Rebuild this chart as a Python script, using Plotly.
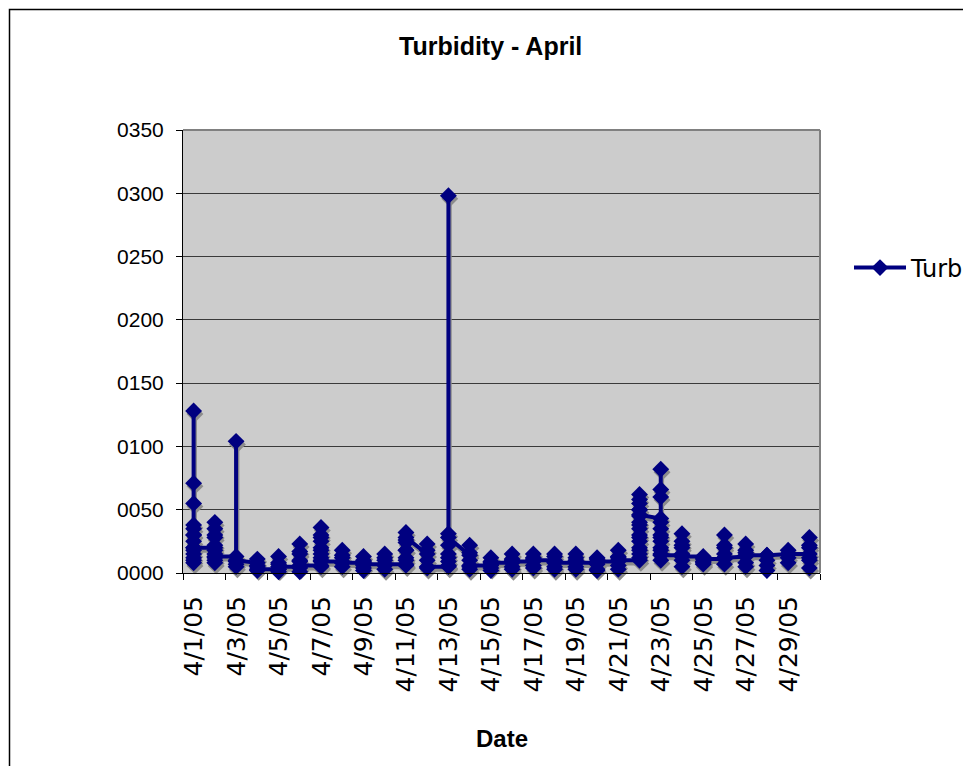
import plotly.graph_objects as go
import pandas as pd

# ---- data: turbidity readings per day (April 2005), in reading order ----
apr01 = [12, 8, 15, 20, 25, 30, 35, 38, 55, 71, 128, 30, 18, 10, 20]
apr02 = [20, 12, 8, 15, 22, 28, 35, 40, 30, 18, 10, 13]
apr03 = [13, 7, 104, 9, 5, 10]
apr04 = [8, 5, 11, 6, 2, 3]
apr05 = [3, 7, 13, 8, 3, 1, 5]
apr06 = [5, 9, 15, 23, 17, 10, 4, 1, 6]
apr07 = [6, 10, 15, 20, 25, 30, 36, 28, 18, 12, 5, 9]
apr08 = [9, 12, 18, 14, 8, 5, 8]
apr09 = [8, 4, 9, 13, 10, 6, 2, 7]
apr10 = [7, 10, 15, 12, 6, 3, 7]
apr11 = [7, 12, 18, 24, 32, 26, 18, 10, 6, 28]
apr12 = [15, 23, 18, 10, 4, 5]
apr13 = [5, 9, 15, 298, 31, 22, 12, 6, 28]
apr14 = [14, 22, 16, 10, 5, 3, 6]
apr15 = [6, 9, 12, 7, 4, 2, 8]
apr16 = [8, 11, 15, 10, 5, 3, 9]
apr17 = [9, 12, 15, 11, 6, 4, 10]
apr18 = [10, 13, 15, 9, 5, 3, 8]
apr19 = [8, 12, 15, 10, 5, 3, 8]
apr20 = [8, 11, 12, 7, 3, 2, 9]
apr21 = [9, 13, 18, 12, 6, 3, 10]
apr22 = [10, 15, 20, 25, 30, 35, 40, 45, 50, 55, 58, 62, 50, 38, 28, 18, 12, 46]
apr23 = [43, 35, 28, 20, 15, 10, 30, 66, 82, 60, 40, 25, 18, 14]
apr24 = [14, 20, 25, 31, 22, 15, 10, 5, 13]
apr25 = [13, 9, 12, 7, 8, 11]
apr26 = [11, 15, 22, 30, 20, 12, 7, 12]
apr27 = [13, 18, 23, 16, 8, 5, 14]
apr28 = [14, 10, 6, 2, 14]
apr29 = [15, 18, 12, 8, 15]
apr30 = [15, 20, 28, 22, 12, 4, 10]

daily_readings = [apr01, apr02, apr03, apr04, apr05, apr06, apr07, apr08, apr09, apr10,
                  apr11, apr12, apr13, apr14, apr15, apr16, apr17, apr18, apr19, apr20,
                  apr21, apr22, apr23, apr24, apr25, apr26, apr27, apr28, apr29, apr30]

y_tickvals = [0, 50, 100, 150, 200, 250, 300, 350]
y_ticktext = ["0000", "0050", "0100", "0150", "0200", "0250", "0300", "0350"]
x_ticktext = ["4/1/05", "4/3/05", "4/5/05", "4/7/05", "4/9/05", "4/11/05", "4/13/05",
              "4/15/05", "4/17/05", "4/19/05", "4/21/05", "4/23/05", "4/25/05",
              "4/27/05", "4/29/05", ""]

series_name = "Turb"
title_text = "Turbidity - April"
x_title = "Date"

# ---- build series ----
start = pd.Timestamp("2005-04-01")
xs, ys = [], []
for i, vals in enumerate(daily_readings):
    d = start + pd.Timedelta(days=i)
    xs += [d] * len(vals)
    ys += vals

# shadow (Excel-style drop shadow)
sx = [v + pd.Timedelta(hours=1.5) for v in xs]
sy = [v - 2.4 for v in ys]

x_tickvals = [start - pd.Timedelta(hours=12) + pd.Timedelta(days=2 * k) for k in range(16)]
x_range = [start - pd.Timedelta(hours=12), start + pd.Timedelta(days=29, hours=12)]

# ---- layout geometry (page pixels; page body has an 8px offset) ----
OFF = 8
W, H = 971 - OFF, 774 - 2 * OFF
L, R, T, B = 183, 820, 130, 573   # plot area in page pixels
pw, ph = R - L, B - T

def px(xp):
    return (xp - L) / pw

def py(yp):
    return (B - yp) / ph

NAVY = "#000080"
FONT = "Liberation Sans"
WIDE = "DejaVu Sans"

fig = go.Figure()
fig.add_trace(go.Scatter(
    x=sx, y=sy, mode="lines+markers", showlegend=False, hoverinfo="skip",
    line=dict(color="#8c8c8c", width=4),
    marker=dict(symbol="diamond", size=13, color="#8c8c8c"),
    cliponaxis=False,
))
fig.add_trace(go.Scatter(
    x=xs, y=ys, mode="lines+markers", name=series_name,
    line=dict(color=NAVY, width=4),
    marker=dict(symbol="diamond", size=13, color=NAVY),
    cliponaxis=False,
))

fig.update_layout(
    width=W, height=H,
    margin=dict(l=L - OFF, r=W - (R - OFF), t=T - OFF, b=H - (B - OFF), pad=0,
                autoexpand=False),
    paper_bgcolor="white",
    plot_bgcolor="#cccccc",
    font=dict(family=FONT, size=20, color="black"),
    showlegend=True,
    legend=dict(xref="container", yref="container",
                x=(849 - OFF) / W, y=1 - (268 - OFF) / H,
                xanchor="left", yanchor="middle",
                itemwidth=52, bgcolor="rgba(0,0,0,0)",
                font=dict(size=24, family=WIDE)),
    xaxis=dict(
        type="date", range=x_range, tickmode="array",
        tickvals=x_tickvals, ticktext=x_ticktext, tickangle=-90,
        ticklabelshift=int(round(pw / 60)), ticklabelstandoff=6,
        ticks="outside", ticklen=6, tickcolor="black",
        showline=True, linecolor="black", linewidth=1, showgrid=False,
        zeroline=False, tickfont=dict(size=25, family=WIDE), automargin=False,
    ),
    yaxis=dict(
        range=[0, 350], tickmode="array", tickvals=y_tickvals, ticktext=y_ticktext,
        ticks="outside", ticklen=6, tickcolor="black", ticklabelstandoff=8,
        showline=True, linecolor="black", linewidth=1,
        showgrid=True, gridcolor="#3a3a3a", gridwidth=1, zeroline=False,
        tickfont=dict(size=21, family=FONT), automargin=False,
    ),
    annotations=[
        dict(text="<b>%s</b>" % title_text, x=px(490), y=py(46), xref="paper", yref="paper",
             showarrow=False, font=dict(size=25, family=FONT), xanchor="center", yanchor="middle"),
        dict(text="<b>%s</b>" % x_title, x=px(502), y=py(738), xref="paper", yref="paper",
             showarrow=False, font=dict(size=24, family=FONT), xanchor="center", yanchor="middle"),
    ],
    shapes=[
        dict(type="line", xref="paper", yref="paper", x0=0, x1=1, y0=1, y1=1,
             line=dict(color="#808080", width=2)),
        dict(type="line", xref="paper", yref="paper", x0=1, x1=1, y0=0, y1=1,
             line=dict(color="#808080", width=2)),
        dict(type="rect", xref="paper", yref="paper",
             x0=px(9.5), x1=px(966), y0=py(800), y1=py(9.5),
             line=dict(color="black", width=1.5), fillcolor="rgba(0,0,0,0)"),
    ],
)

fig.write_html("out.html")
